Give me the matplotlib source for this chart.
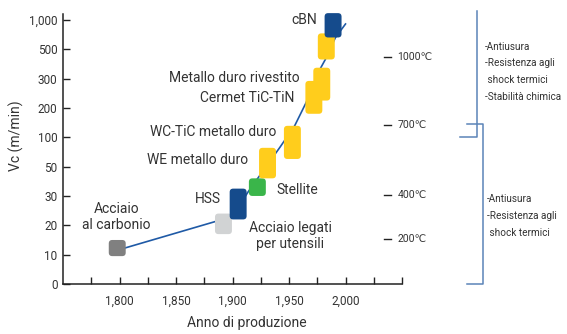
import numpy as np
import matplotlib
matplotlib.use('Agg')
import matplotlib.pyplot as plt
from matplotlib.patches import FancyBboxPatch
from matplotlib.transforms import IdentityTransform

plt.rcParams['font.family'] = ['Roboto', 'DejaVu Sans']

# speed levels, drawn equally spaced on the y axis
vc_ticks = [0, 10, 20, 30, 50, 100, 200, 300, 500, 1000]
vc_knots = vc_ticks + [1500]
year_ticks = [1800, 1850, 1900, 1950, 2000]
year_labels = ['1,800', '1,850', '1,900', '1,950', '2,000']

# tool materials: year of introduction and cutting-speed range
materials = ['Acciaio\nal carbonio', 'Acciaio legati\nper utensili', 'HSS', 'Stellite',
             'WE metallo duro', 'WC-TiC metallo duro', 'Cermet TiC-TiN',
             'Metallo duro rivestito', '', 'cBN']
years = [1798, 1892, 1905, 1922, 1931, 1953, 1972, 1979, 1983, 1989]
vc_low = [9.5, 17, 22, 30, 42, 63, 180, 225, 430, 700]
vc_high = [15, 24, 35, 42, 82, 139, 292, 374, 770, 1115]
box_colors = ['#808080', '#d1d3d4', '#154b8c', '#3ab54a', '#ffcd1c', '#ffcd1c',
              '#ffcd1c', '#ffcd1c', '#ffcd1c', '#154b8c']

# trend line behind the boxes
trend_years = [1798, 1900, 1914, 1942, 1955, 1965, 1978, 1982, 1991, 2000]
trend_vc = [11.5, 23, 33, 83, 139, 217, 372, 428, 695, 930]

# cutting temperatures
temp_labels = ['1000℃', '700℃', '400℃', '200℃']
temp_vc = [448, 142, 30.6, 15.5]

prop_text = ['-Antiusura\n-Resistenza agli\n shock termici\n-Stabilità chimica',
             '-Antiusura\n-Resistenza agli\n shock termici']


def fwd(v):
    return np.interp(v, vc_knots, np.arange(len(vc_knots)))


def inv(p):
    return np.interp(p, np.arange(len(vc_knots)), vc_knots)


fig = plt.figure(figsize=(5.67, 3.34), dpi=100)
ax = fig.add_axes([63 / 567, 50 / 334, 339 / 567, 270 / 334])
ax.set_yscale('function', functions=(fwd, inv))
ax.set_xlim(1750, 2050)
ax.set_ylim(0, inv(9.2))

txt = '#333333'
for s in ['top', 'right']:
    ax.spines[s].set_visible(False)
for s in ['left', 'bottom']:
    ax.spines[s].set_color('#222222')
    ax.spines[s].set_linewidth(1.1)

ax.set_yticks(vc_ticks)
ax.set_yticklabels([f'{v:,}' for v in vc_ticks])
ax.yaxis.set_minor_locator(matplotlib.ticker.NullLocator())
ax.set_xticks(year_ticks)
ax.set_xticklabels(year_labels)
ax.set_xticks(np.arange(1775, 2051, 25), minor=True)
ax.tick_params(axis='both', which='both', direction='in', length=5, width=1,
               color='#222222', labelcolor=txt, labelsize=8.5)
ax.tick_params(axis='x', pad=8)
ax.tick_params(axis='y', pad=4)

ax.set_ylabel('Vc (m/min)', fontsize=10, color=txt)
ax.set_xlabel('Anno di produzione', fontsize=10, color=txt)
ax.yaxis.set_label_coords(-0.114, 0.548)
ax.xaxis.set_label_coords(0.543, -0.118)

ax.plot(trend_years, trend_vc, color='#1f5aa6', lw=1.2, zorder=2)

# rounded boxes, sized in pixels from the data transform
bw = 15
for yr, lo, hi, c in zip(years, vc_low, vc_high, box_colors):
    x0, y0 = ax.transData.transform((yr - bw / 2, lo))
    x1, y1 = ax.transData.transform((yr + bw / 2, hi))
    p = FancyBboxPatch((x0, y0), x1 - x0, y1 - y0,
                       boxstyle='round,pad=0,rounding_size=3.5',
                       transform=IdentityTransform(), fc=c, ec='none',
                       zorder=3, clip_on=False)
    ax.add_patch(p)

# label placements (x, y, ha)
label_pos = [(1797, 22.8, 'center'), (1951, 16.4, 'center'), (1890, 29, 'right'),
             (1939, 34, 'left'), (1914, 61.5, 'right'), (1939, 118, 'right'),
             (1955, 234, 'right'), (1959, 306, 'right'), None, (1975, 1000, 'right')]
for name, pos in zip(materials, label_pos):
    if pos is None:
        continue
    ax.text(pos[0], pos[1], name, ha=pos[2], va='center', fontsize=10,
            color=txt, linespacing=1.2)

for lab, v in zip(temp_labels, temp_vc):
    ax.plot([2034, 2040], [v, v], color='#222222', lw=1, clip_on=False)
    ax.text(2046, v, lab, ha='left', va='center', fontsize=7.5, color=txt,
            clip_on=False)

# brackets on the right
tr = ax.get_yaxis_transform()
bc = '#5b84b8'
ax.plot([1.221, 1.221, 1.171], [1150, 100, 100], color=bc, lw=1.1,
        transform=tr, clip_on=False, solid_joinstyle='round')
ax.plot([1.192, 1.239, 1.239, 1.192], [145, 145, 0, 0], color=bc, lw=1.1,
        transform=tr, clip_on=False, solid_joinstyle='round')
ax.text(1.245, 346, prop_text[0], transform=tr, ha='left', va='center',
        fontsize=7.2, color=txt, linespacing=1.85)
ax.text(1.251, 23.2, prop_text[1], transform=tr, ha='left', va='center',
        fontsize=7.2, color=txt, linespacing=1.85)

fig.savefig('out.png', dpi=100)
